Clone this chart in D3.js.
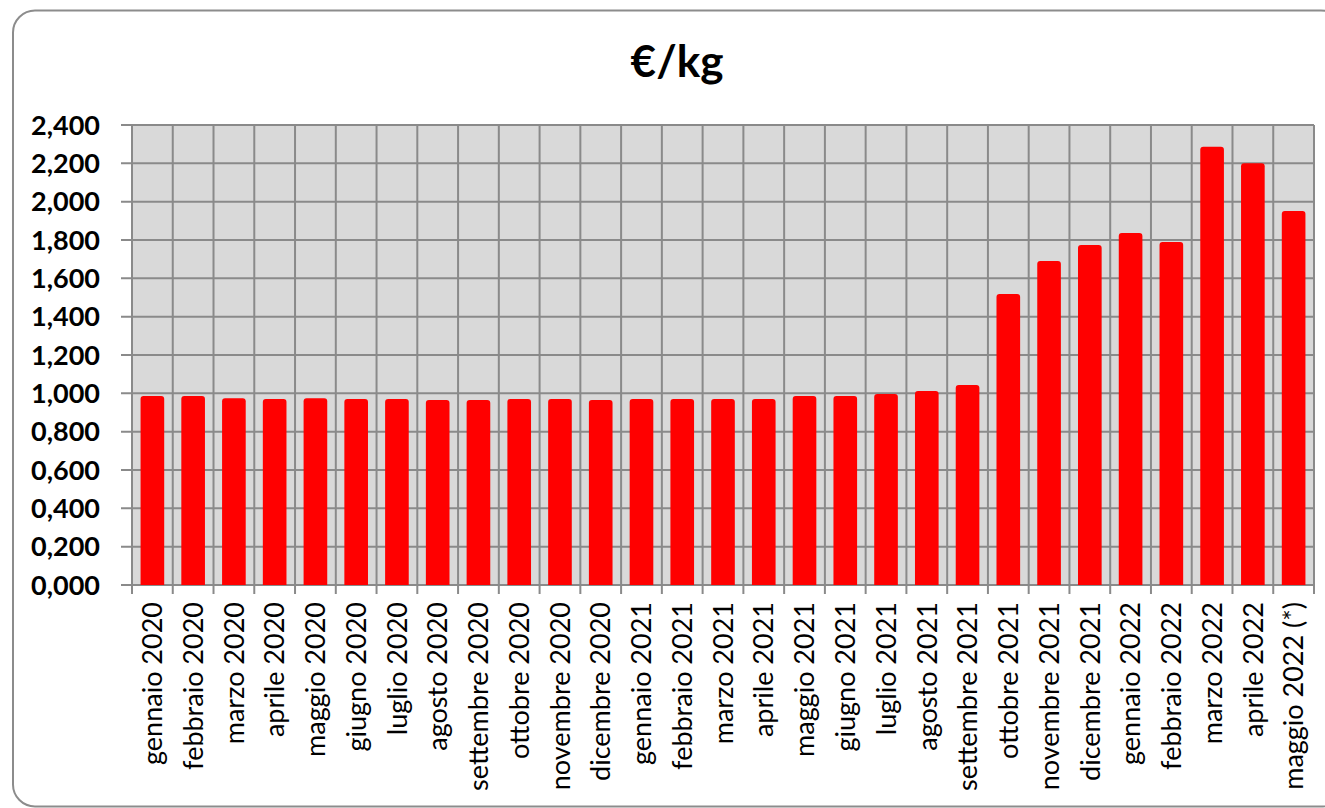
<!DOCTYPE html>
<html>
<head>
<meta charset="utf-8">
<script src="https://cdn.jsdelivr.net/npm/d3@7"></script>
<style>
  body { margin: 0; background: #fff; }
  svg { display: block; }
</style>
</head>
<body>
<div class="chart"></div>
<script>
// months on the x axis
const categories = [
    'gennaio 2020', 'febbraio 2020', 'marzo 2020', 'aprile 2020', 'maggio 2020', 'giugno 2020',
    'luglio 2020', 'agosto 2020', 'settembre 2020', 'ottobre 2020', 'novembre 2020', 'dicembre 2020',
    'gennaio 2021', 'febbraio 2021', 'marzo 2021', 'aprile 2021', 'maggio 2021', 'giugno 2021',
    'luglio 2021', 'agosto 2021', 'settembre 2021', 'ottobre 2021', 'novembre 2021', 'dicembre 2021',
    'gennaio 2022', 'febbraio 2022', 'marzo 2022', 'aprile 2022', 'maggio 2022 (*)'
];

// €/kg per month
const prices = [
    0.986, 0.986, 0.975, 0.970, 0.975, 0.970,
    0.970, 0.965, 0.965, 0.970, 0.970, 0.965,
    0.970, 0.970, 0.970, 0.970, 0.986, 0.986,
    0.996, 1.012, 1.043, 1.518, 1.690, 1.774,
    1.837, 1.790, 2.287, 2.200, 1.951
];

const yTicks = [0, 0.2, 0.4, 0.6, 0.8, 1.0, 1.2, 1.4, 1.6, 1.8, 2.0, 2.2, 2.4];
const title = '€/kg';

const W = 1325, H = 808;
const margin = { left: 132, right: 11, top: 125, bottom: 223 };
const w = W - margin.left - margin.right;
const h = H - margin.top - margin.bottom;

const svg = d3.select('.chart').append('svg').attr('width', W).attr('height', H);

// outer frame, its right side runs off the picture
svg.append('rect')
    .attr('x', 13).attr('y', 10.5)
    .attr('width', 1330).attr('height', 796)
    .attr('rx', 22).attr('ry', 22)
    .attr('fill', '#fff')
    .attr('stroke', '#8c8c8c')
    .attr('stroke-width', 2);

svg.append('text')
    .attr('x', 677).attr('y', 77)
    .attr('text-anchor', 'middle')
    .style('font-family', 'Lato, "Open Sans", sans-serif')
    .style('font-weight', 'bold')
    .style('font-size', '44px')
    .text(title);

const it = d3.formatLocale({ decimal: ',', thousands: '.', grouping: [3], currency: ['€', ''] });
const fmt = it.format('.3f');

const x = d3.scaleBand().domain(categories).range([0, w]).padding(0);
const y = d3.scaleLinear().domain([0, 2.4]).range([h, 0]);

const g = svg.append('g').attr('transform', 'translate(' + margin.left + ',' + margin.top + ')');

g.append('rect').attr('width', w).attr('height', h).attr('fill', '#d9d9d9');

// horizontal grid
g.append('g').selectAll('line').data(yTicks).enter().append('line')
    .attr('x1', -11).attr('x2', w)
    .attr('y1', (d) => y(d)).attr('y2', (d) => y(d))
    .attr('stroke', '#8a8a8a').attr('stroke-width', 2);

// vertical grid between months, ticks drop below the axis
const bounds = categories.map((c) => x(c)).concat([w]);
g.append('g').selectAll('line').data(bounds).enter().append('line')
    .attr('x1', (d) => d).attr('x2', (d) => d)
    .attr('y1', 0).attr('y2', h + 9)
    .attr('stroke', '#8a8a8a').attr('stroke-width', 2);

// y labels
g.append('g').selectAll('text').data(yTicks).enter().append('text')
    .attr('x', -32).attr('y', (d) => y(d))
    .attr('dy', '0.36em')
    .attr('text-anchor', 'end')
    .style('font-family', 'Lato, "Open Sans", sans-serif')
    .style('font-weight', 'bold')
    .style('font-size', '27px')
    .attr('fill', '#000')
    .text((d) => fmt(d));

// bars with slightly rounded tops
const bw = x.bandwidth() * 0.58;
const r = 3;
g.append('g').selectAll('path').data(prices).enter().append('path')
    .attr('d', (d, i) => {
        const x0 = x(categories[i]) + (x.bandwidth() - bw) / 2;
        const y0 = y(d), y1 = y(0);
        return 'M' + x0 + ',' + y1 +
            'V' + (y0 + r) +
            'Q' + x0 + ',' + y0 + ' ' + (x0 + r) + ',' + y0 +
            'H' + (x0 + bw - r) +
            'Q' + (x0 + bw) + ',' + y0 + ' ' + (x0 + bw) + ',' + (y0 + r) +
            'V' + y1 + 'Z';
    })
    .attr('fill', '#ff0000');

// x labels, rotated
g.append('g').selectAll('text').data(categories).enter().append('text')
    .attr('transform', (d) => 'translate(' + (x(d) + x.bandwidth() / 2) + ',' + (h + 17) + ') rotate(-90)')
    .attr('dy', '0.36em')
    .attr('text-anchor', 'end')
    .style('font-family', 'Lato, "Open Sans", sans-serif')
    .style('font-size', '27px')
    .attr('fill', '#000')
    .text((d) => d);
</script>
</body>
</html>
